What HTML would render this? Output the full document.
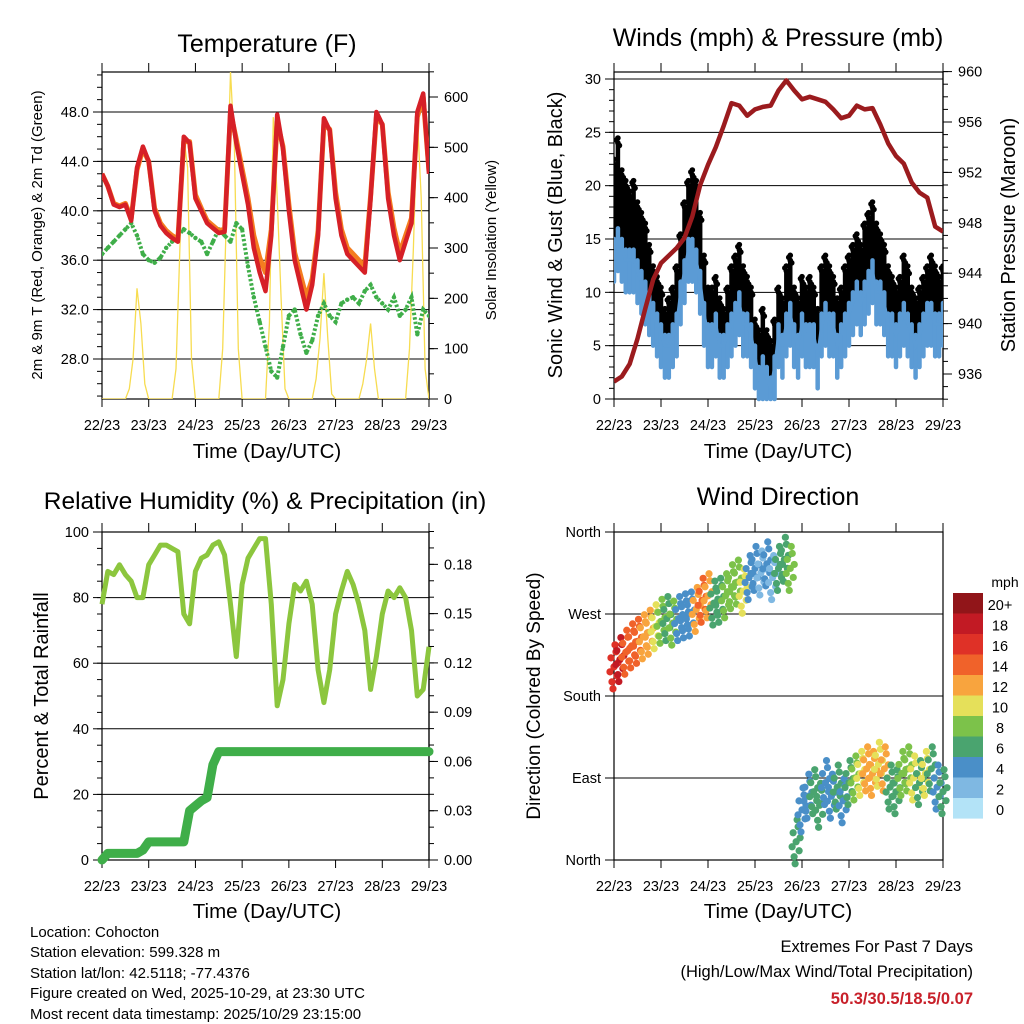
<!DOCTYPE html>
<html><head><meta charset="utf-8"><style>
html,body{margin:0;padding:0;background:#fff;}
svg{display:block;font-family:"Liberation Sans",sans-serif;}
</style></head><body>
<svg id="chart" width="1024" height="1024" viewBox="0 0 1024 1024" xmlns="http://www.w3.org/2000/svg">
<rect x="0" y="0" width="1024" height="1024" fill="#fff"/>
<text x="267" y="52" font-size="25" text-anchor="middle">Temperature (F)</text>
<text x="778" y="46" font-size="25" text-anchor="middle">Winds (mph) &amp; Pressure (mb)</text>
<text x="265" y="509" font-size="24.5" text-anchor="middle">Relative Humidity (%) &amp; Precipitation (in)</text>
<text x="778" y="505" font-size="25" text-anchor="middle">Wind Direction</text>
<text transform="translate(42,235) rotate(-90)" font-size="15" text-anchor="middle">2m &amp; 9m T (Red, Orange) &amp; 2m Td (Green)</text>
<text transform="translate(496,240) rotate(-90)" font-size="15" text-anchor="middle">Solar Insolation (Yellow)</text>
<text transform="translate(562,235) rotate(-90)" font-size="20" text-anchor="middle">Sonic Wind &amp; Gust (Blue, Black)</text>
<text transform="translate(1015,235) rotate(-90)" font-size="20" text-anchor="middle">Station Pressure (Maroon)</text>
<text transform="translate(48,696) rotate(-90)" font-size="20" text-anchor="middle">Percent &amp; Total Rainfall</text>
<text transform="translate(540,696) rotate(-90)" font-size="19" text-anchor="middle">Direction (Colored By Speed)</text>
<text x="267" y="458" font-size="20.5" text-anchor="middle">Time (Day/UTC)</text>
<text x="778" y="458" font-size="20.5" text-anchor="middle">Time (Day/UTC)</text>
<text x="267" y="918" font-size="20.5" text-anchor="middle">Time (Day/UTC)</text>
<text x="778" y="918" font-size="20.5" text-anchor="middle">Time (Day/UTC)</text>
<g font-size="15">
<text x="30" y="937">Location: Cohocton</text>
<text x="30" y="957">Station elevation: 599.328 m</text>
<text x="30" y="978">Station lat/lon: 42.5118; -77.4376</text>
<text x="30" y="998">Figure created on Wed, 2025-10-29, at 23:30 UTC</text>
<text x="30" y="1019">Most recent data timestamp: 2025/10/29 23:15:00</text>
</g>
<text x="973" y="952" font-size="16.5" text-anchor="end">Extremes For Past 7 Days</text>
<text x="973" y="977" font-size="16.5" text-anchor="end">(High/Low/Max Wind/Total Precipitation)</text>
<text x="973" y="1004" font-size="16.5" font-weight="bold" fill="#c8202a" text-anchor="end">50.3/30.5/18.5/0.07</text>
<text x="1005" y="587" font-size="14" text-anchor="middle">mph</text>
</svg>
<script>
// ---------- data ----------
const dayLabels=["22/23","23/23","24/23","25/23","26/23","27/23","28/23","29/23"];
const temp2m=[43,42,40.5,40.3,40.5,39.2,43.5,45.2,44,40,38.8,38.2,37.8,37.5,46,45.5,41,40,39,38.6,38.2,38.3,48.5,45.5,43,40.5,37,35,33.5,38,47.8,45,40,36,34,32,34,38,47.5,46.5,41,38,36.5,36,35.5,35,41,48,47,41,38,36,37.5,39,48,49.5,43];
const temp9m=[43,42,40.6,40.4,40.6,39.4,43.3,45,44,40.2,39,38.4,38,37.7,45.6,45.6,41.3,40.2,39.2,38.8,38.4,38.5,48,45.8,43.4,41,38,36.2,35,38.5,47.2,45.2,40.5,36.6,34.8,33,34.5,38.4,47,46.6,41.5,38.5,37,36.5,36,35.5,41.2,47.6,47,41.5,38.6,36.6,38,39.4,47.6,49.2,43.2];
const dewpoint=[36.5,37,37.5,38,38.5,39,38,36.5,36,35.8,36.2,37,37.5,38,38.5,38.2,37.8,37.5,36.5,37.5,38.5,38,37.5,39,38.5,35.5,33,31,29,27,26.5,29,31.5,32,30,28.5,29.5,31.5,32.5,31.5,31,32.5,32.8,33,32.5,33.5,34,33,32.5,32,33,31.5,32,33,30,32,31.5];
const solar=[0,0,0,0,0,0,0,20,80,220,150,30,0,0,0,0,0,0,0,60,300,520,460,80,0,0,0,0,0,0,0,100,380,650,500,100,0,0,0,0,0,0,0,150,560,400,200,20,0,0,0,0,0,0,0,40,120,250,120,10,0,0,0,0,0,0,0,30,80,150,60,0,0,0,0,0,0,0,0,100,300,560,400,60,0];
const gust=[22,24,21,20,19,20,18,17,16,14,12,11,10,8,9,10,12,15,18,20,21,20,17,13,10,10,11,9,8,10,12,13,14,12,11,10,7,6,8,6,5,7,10,9,12,13,10,9,11,10,11,10,8,12,13,12,11,9,10,12,13,14,15,14,16,17,18,16,15,14,12,11,10,11,13,12,10,9,10,11,12,13,12,11,12];
const wind=[14,15,14,13,13,13,12,11,10,9,8,7,6,5,5,6,7,10,12,14,14,13,11,8,6,6,7,5,5,6,7,8,9,7,7,6,4,2,3,2,1,3,6,5,7,8,6,5,7,6,6,6,4,7,8,7,7,5,6,7,8,9,10,9,10,11,12,10,10,9,7,7,6,7,8,7,6,5,6,7,8,8,7,7,8];
const pressure=[935.4,935.8,936.8,938.8,941.2,943.5,944.8,945.4,946,946.8,948.5,951,952.6,954,955.7,957.5,957.3,956.5,957,957.2,957.3,958.5,959.3,958.5,957.8,958,957.8,957.6,957,956.3,956.5,957.3,957,957.1,955.8,954.3,953.3,952.7,951.2,950.4,950,947.7,947.3];
const humidity=[78,88,87,90,87,85,80,80,90,93,96,96,95,94,75,72,88,92,93,96,97,93,78,62,84,92,95,98,98,78,47,55,72,84,82,85,78,58,48,58,75,82,88,84,78,70,52,62,75,82,80,83,80,70,50,52,65];
const precip=[0,0.004,0.004,0.004,0.004,0.004,0.004,0.006,0.011,0.011,0.011,0.011,0.011,0.011,0.011,0.03,0.033,0.036,0.038,0.058,0.066,0.066,0.066,0.066,0.066,0.066,0.066,0.066,0.066,0.066,0.066,0.066,0.066,0.066,0.066,0.066,0.066,0.066,0.066,0.066,0.066,0.066,0.066,0.066,0.066,0.066,0.066,0.066,0.066,0.066,0.066,0.066,0.066,0.066,0.066,0.066,0.066];
const windDir=[212,220,228,235,240,245,250,256,262,265,260,265,268,270,275,285,290,282,285,290,300,305,295,310,320,315,325,310,320,330,320,20,55,70,75,60,85,70,80,65,85,90,95,100,95,105,100,80,75,95,100,90,85,95,100,80,75];
const windDirSpeed=[16,18,15,14,14,13,12,11,9,7,8,5,4,4,12,15,13,7,6,8,9,8,10,5,4,3,4,2,6,7,8,6,5,4,6,7,5,4,7,5,6,8,11,12,13,10,12,7,6,8,9,10,7,11,6,5,7];
const speedLabels=["20+","18","16","14","12","10","8","6","4","2","0"];
const speedColors=["#911519","#c21a24","#df3127","#f0622a","#f8a43e","#e5e05a","#7cc24a","#4aa46f","#4a8fc8","#7fb8e2","#b3e3f7"];
const tempTicks=[28,32,36,40,44,48];
const solarTicks=[0,100,200,300,400,500,600];
const windTicks=[0,5,10,15,20,25,30];
const pressTicks=[936,940,944,948,952,956,960];
const rhTicks=[0,20,40,60,80,100];
const rainTicks=[0,0.03,0.06,0.09,0.12,0.15,0.18];
const dirTicks=[0,90,180,270,360];
const dirLabels=["North","East","South","West","North"];

// ---------- helpers ----------
const NS="http://www.w3.org/2000/svg";
const svg=document.getElementById("chart");
function mk(tag,parent,attrs){const e=document.createElementNS(NS,tag);for(const k in attrs)e.setAttribute(k,attrs[k]);parent.appendChild(e);return e;}
function lin(d0,d1,r0,r1){return v=>r0+(v-d0)/(d1-d0)*(r1-r0);}
const HOURS=168;

function frame(name,x0,x1,y0,y1){
  const g=mk("g",svg,{});
  
  
  const xs=lin(0,HOURS,x0,x1);
  for(let i=0;i<dayLabels.length;i++){
    const x=xs(i*24);
    const tb=mk("line",g,{x1:x,x2:x,y1:y1,y2:y1+8,stroke:"#000","stroke-width":1});
    
    
    const tt=mk("line",g,{x1:x,x2:x,y1:y0,y2:y0-9,stroke:"#000","stroke-width":1});
    
    
    const lb=mk("text",g,{x:x,y:y1+31,"font-size":14.5,"text-anchor":"middle"});
    lb.textContent=dayLabels[i];
    
    
  }
  const b=mk("rect",g,{x:x0,y:y0,width:x1-x0,height:y1-y0,fill:"none",stroke:"#000","stroke-width":1.2});
  
  
  return {g,xs};
}
function leftAxis(g,ticks,ys,x0,x1,fmt,grid,minorStep,lo,hi,name){
  if(minorStep){for(let v=Math.ceil(lo/minorStep)*minorStep;v<=hi+1e-9;v+=minorStep){
    const y=ys(v);const m=mk("line",g,{x1:x0,x2:x0-5,y1:y,y2:y,stroke:"#000","stroke-width":1});
    
    }}
  ticks.forEach((v,i)=>{
    const y=ys(v);
    const t=mk("line",g,{x1:x0,x2:x0-9,y1:y,y2:y,stroke:"#000","stroke-width":1});
    
    
    if(grid){const gl=mk("line",g,{x1:x0,x2:x1,y1:y,y2:y,stroke:"#000","stroke-width":1});
      
      }
    const l=mk("text",g,{x:x0-13,y:y+5,"font-size":14.5,"text-anchor":"end"});
    l.textContent=fmt(v,i);
    
    
  });
}
function rightAxis(g,ticks,ys,x1,fmt,minorStep,lo,hi,name){
  const ax=mk("line",g,{x1:x1,x2:x1,y1:ys(hi),y2:ys(lo),stroke:"#000","stroke-width":1.2});
  
  
  if(minorStep){for(let v=Math.ceil(lo/minorStep)*minorStep;v<=hi+1e-9;v+=minorStep){
    const y=ys(v);const m=mk("line",g,{x1:x1,x2:x1+5,y1:y,y2:y,stroke:"#000","stroke-width":1});
    
    }}
  ticks.forEach(v=>{
    const y=ys(v);
    const t=mk("line",g,{x1:x1,x2:x1+9,y1:y,y2:y,stroke:"#000","stroke-width":1});
    
    
    const l=mk("text",g,{x:x1+15,y:y+5,"font-size":14.5,"text-anchor":"start"});
    l.textContent=fmt(v);
    
    
  });
}
function pathFrom(arr,step,xs,ys){return arr.map((v,i)=>(i?"L":"M")+xs(i*step).toFixed(1)+","+ys(v).toFixed(1)).join(" ");}

// ---------- Panel 1: temperature ----------
(function(){
  const x0=102,x1=429,y0=72,y1=399;
  const {g,xs}=frame("temperature",x0,x1,y0,y1);
  const ys=lin(48,28,112,359);
  const yS=lin(0,600,399,97);
  const clip=mk("clipPath",svg,{id:"c1"});mk("rect",clip,{x:x0,y:y0,width:x1-x0,height:y1-y0});
  leftAxis(g,tempTicks,ys,x0,x1,v=>v.toFixed(1),true,1,25,51,"temperature-y");
  rightAxis(g,solarTicks,yS,x1,v=>String(v),50,0,650,"solar-y");
  const d=mk("g",svg,{"clip-path":"url(#c1)"});
  const sp=mk("path",d,{d:pathFrom(solar,2,xs,yS),fill:"none",stroke:"#f7dc50","stroke-width":1.3});
  
  
  dewpoint.forEach((v,i)=>{
    const c=mk("circle",d,{cx:xs(i*3),cy:ys(v),r:2.2,fill:"#3fae49"});
    
    
  });
  const dp=mk("path",d,{d:pathFrom(dewpoint,3,xs,ys),fill:"none",stroke:"#3fae49","stroke-width":4,"stroke-dasharray":"2.5 2"});
  
  
  const o=mk("path",d,{d:pathFrom(temp9m,3,xs,ys),fill:"none",stroke:"#f47d20","stroke-width":5,"stroke-linejoin":"round"});
  
  
  const r=mk("path",d,{d:pathFrom(temp2m,3,xs,ys),fill:"none",stroke:"#d62027","stroke-width":4.5,"stroke-linejoin":"round"});
  
  
})();

// ---------- Panel 2: winds & pressure ----------
(function(){
  const x0=614,x1=943,y0=72,y1=399;
  const {g,xs}=frame("winds",x0,x1,y0,y1);
  const ys=lin(0,30,399,79);
  const yP=lin(936,960,374,71.6);
  const clip=mk("clipPath",svg,{id:"c2"});mk("rect",clip,{x:x0,y:y0-2,width:x1-x0,height:y1-y0+6});
  leftAxis(g,windTicks,ys,x0,x1,v=>String(v),true,1,0,30,"wind-y");
  rightAxis(g,pressTicks,yP,x1,v=>String(v),1,934,960,"pressure-y");
  const d=mk("g",svg,{"clip-path":"url(#c2)"});
  const gofs=[[0,0],[-1.5,-3],[1.5,2.5],[0,-5]];
  gust.forEach((v,i)=>{
    const x=xs(i*2);
    const s=mk("line",d,{x1:x,x2:x,y1:ys(wind[i]),y2:ys(v),stroke:"#000","stroke-width":4.5,"stroke-linecap":"round"});
    
    
    gofs.forEach(o=>{
      const c=mk("circle",d,{cx:x+o[0],cy:ys(v)+o[1],r:2.8,fill:"#000"});
      
      
    });
  });
  wind.forEach((v,i)=>{
    const x=xs(i*2);
    const s=mk("line",d,{x1:x,x2:x,y1:ys(Math.max(0,v-3)),y2:ys(v+1),stroke:"#5b9bd5","stroke-width":4.5,"stroke-linecap":"round"});
    
    
  });
  const wl=mk("path",d,{d:pathFrom(wind,2,xs,ys),fill:"none",stroke:"#5b9bd5","stroke-width":3});
  
  
  const p=mk("path",d,{d:pathFrom(pressure,4,xs,yP),fill:"none",stroke:"#9b1b1e","stroke-width":4.5,"stroke-linejoin":"round"});
  
  
})();

// ---------- Panel 3: humidity & precip ----------
(function(){
  const x0=102,x1=429,y0=532,y1=860;
  const {g,xs}=frame("humidity",x0,x1,y0,y1);
  const ys=lin(0,100,860,532);
  const yR=lin(0,0.2,860,531.5);
  leftAxis(g,rhTicks,ys,x0,x1,v=>String(v),true,5,0,100,"humidity-y");
  rightAxis(g,rainTicks,yR,x1,v=>v.toFixed(2),0.01,0,0.2,"rain-y");
  const h=mk("path",svg,{d:pathFrom(humidity,3,xs,ys),fill:"none",stroke:"#8cc63e","stroke-width":5,"stroke-linejoin":"round"});
  
  
  const pr=mk("path",svg,{d:pathFrom(precip,3,xs,yR),fill:"none",stroke:"#3fae49","stroke-width":9,"stroke-linejoin":"round","stroke-linecap":"round"});
  
  
})();

// ---------- Panel 4: wind direction ----------
(function(){
  const x0=614,x1=943,y0=532,y1=860;
  const {g,xs}=frame("direction",x0,x1,y0,y1);
  const ys=lin(0,360,860,532);
  leftAxis(g,dirTicks,ys,x0,x1,(v,i)=>dirLabels[i],true,0,0,360,"direction-y");
  function colorFor(s){let bin=Math.min(10,Math.floor(s/2));return speedColors[10-bin];}
  const offs=[[0,0],[-3,-9],[3,9],[-2,15],[2,-15],[4,-4],[-4,5],[1,-22],[-1,22]];
  windDir.forEach((v,i)=>{
    const x=xs(i*3),y=ys(v);
    offs.forEach(o=>{
      const c=mk("circle",svg,{cx:x+o[0],cy:y+o[1],r:3.6,fill:colorFor(windDirSpeed[i])});
      
      
    });
  });
  speedColors.forEach((c,i)=>{
    const r=mk("rect",svg,{x:953,y:593+i*20.5,width:30,height:20.6,fill:c});
    
    
    const t=mk("text",svg,{x:1000,y:610+i*20.5,"font-size":14.5,"text-anchor":"middle"});
    t.textContent=speedLabels[i];
    
    
  });
})();
</script>
</body></html>
